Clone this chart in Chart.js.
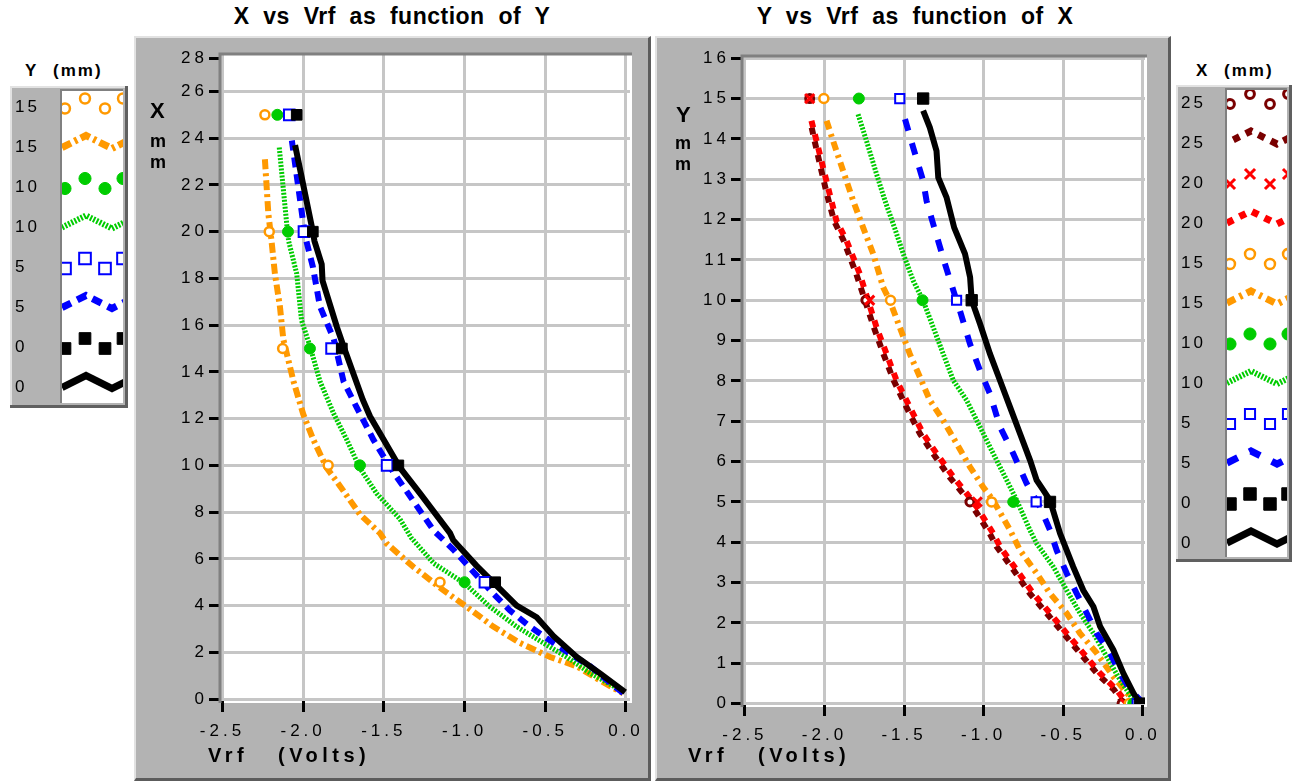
<!DOCTYPE html>
<html>
<head>
<meta charset="utf-8">
<title>Vrf</title>
<script src="https://cdn.jsdelivr.net/npm/chart.js@4.4.1/dist/chart.umd.min.js"></script>
<style>
  body { margin:0; width:1294px; height:783px; background:#fff; position:relative; overflow:hidden; font-family:"Liberation Sans", Arial, sans-serif; color:#000; }
  .abs { position:absolute; white-space:pre; line-height:1; }
  .panel { position:absolute; top:36px; height:745px; box-sizing:border-box; background:#b3b3b3; border-top:2px solid #e2e2e2; border-left:2px solid #e2e2e2; border-right:3px solid #5c5c5c; border-bottom:3px solid #5c5c5c; }
  canvas { position:absolute; }
  .ttl { font-weight:bold; font-size:23px; letter-spacing:0.5px; text-align:center; width:500px; top:5px; }
  .axt { font-weight:bold; font-size:20px; letter-spacing:4.5px; top:745px; }
  .big { font-weight:bold; font-size:22px; }
  .mm { font-weight:bold; font-size:18px; }
  .lh { font-weight:bold; font-size:17px; letter-spacing:2px; top:62px; }
</style>
</head>
<body>
<div class="abs ttl" style="left:142px">X  vs  Vrf  as  function  of  Y</div>
<div class="abs ttl" style="left:665px">Y  vs  Vrf  as  function  of  X</div>

<div class="panel" style="left:134px;width:517px"></div>
<div class="panel" style="left:655px;width:516px"></div>
<canvas id="leftChart" width="517" height="745" style="left:134px;top:36px"></canvas>
<canvas id="rightChart" width="516" height="745" style="left:655px;top:36px"></canvas>

<!-- 軸タイトル -->
<div class="abs big" style="left:150px;top:100px">X</div>
<div class="abs mm" style="left:150px;top:132px">m</div>
<div class="abs mm" style="left:150px;top:153px">m</div>
<div class="abs big" style="left:676px;top:104px">Y</div>
<div class="abs mm" style="left:675px;top:134px">m</div>
<div class="abs mm" style="left:675px;top:155px">m</div>
<div class="abs axt" style="left:208px">Vrf</div>
<div class="abs axt" style="left:278px">(Volts)</div>
<div class="abs axt" style="left:688px">Vrf</div>
<div class="abs axt" style="left:758px">(Volts)</div>

<!-- 凡例 -->
<div class="abs lh" style="left:25px">Y</div>
<div class="abs lh" style="left:53px">(mm)</div>
<div class="abs lh" style="left:1196px">X</div>
<div class="abs lh" style="left:1224px">(mm)</div>
<canvas id="leftLegend" width="118" height="322" style="left:10px;top:86px"></canvas>
<canvas id="rightLegend" width="116" height="477" style="left:1176px;top:85px"></canvas>

<script>
// ===== データ =====
// 目盛り
const xTickValues = [-2.5, -2.0, -1.5, -1.0, -0.5, 0.0];
const xTickLabels = ['-2.5', '-2.0', '-1.5', '-1.0', '-0.5', '0.0'];
const leftYTickLabels = [0, 2, 4, 6, 8, 10, 12, 14, 16, 18, 20, 22, 24, 26, 28];
const rightYTickLabels = [0, 1, 2, 3, 4, 5, 6, 7, 8, 9, 10, 11, 12, 13, 14, 15, 16];

// 左グラフ: X(mm) と Vrf(V)  Y = 0, 5, 10, 15 mm
const leftY0_X = [23.7, 20.0, 19.6, 18.6, 17.9, 15.9, 15.1, 12.8, 12.1, 11.2, 9.9, 8.8, 7.1, 6.8, 5.7, 4.7, 4.0, 3.5, 2.7, 1.8, 1.1, 0.3];
const leftY0_V = [-2.05, -1.94, -1.93, -1.885, -1.88, -1.79, -1.75, -1.63, -1.586, -1.51, -1.40, -1.276, -1.09, -1.07, -0.925, -0.78, -0.677, -0.553, -0.45, -0.305, -0.161, -0.005];
const leftY5_X = [23.9, 20.4, 19.6, 18.5, 16.8, 15.4, 13.6, 12.5, 11.1, 9.9, 8.5, 7.2, 6.4, 5.45, 4.5, 3.8, 3.1, 2.5, 1.95, 1.4, 0.7, 0.25];
const leftY5_V = [-2.07, -2.0, -1.98, -1.94, -1.896, -1.81, -1.75, -1.67, -1.565, -1.46, -1.32, -1.19, -1.07, -0.946, -0.82, -0.72, -0.595, -0.47, -0.35, -0.22, -0.1, -0.017];
const leftY10_X = [23.6, 20.2, 19.6, 18.2, 16.2, 15.1, 13.6, 12.2, 11.1, 9.9, 8.8, 7.7, 6.9, 5.8, 4.95, 3.95, 3.1, 2.4, 1.8, 1.1, 0.4];
const leftY10_V = [-2.148, -2.10, -2.09, -2.04, -2.01, -1.958, -1.896, -1.81, -1.73, -1.65, -1.545, -1.40, -1.33, -1.19, -1.0, -0.843, -0.677, -0.512, -0.367, -0.22, -0.037];
const leftY15_X = [23.1, 20.8, 19.6, 18.2, 16.8, 15.4, 13.6, 12.2, 11.1, 9.9, 9.1, 7.9, 7.1, 6.66, 5.66, 4.66, 3.95, 3.1, 2.4, 1.8, 1.4, 0.8, 0.24];
const leftY15_V = [-2.237, -2.216, -2.196, -2.175, -2.144, -2.123, -2.06, -2.0, -1.937, -1.855, -1.77, -1.648, -1.524, -1.483, -1.318, -1.132, -0.987, -0.822, -0.657, -0.47, -0.305, -0.161, -0.017];
// マーカー位置
const leftMarkX = [5, 10, 15, 20, 25];
const leftY0_markV = [-0.81, -1.41, -1.76, -1.94, -2.04];
const leftY5_markV = [-0.874, -1.48, -1.824, -1.995, -2.086];
const leftY10_markV = [-1.0, -1.648, -1.958, -2.094, -2.16];
const leftY15_markV = [-1.152, -1.845, -2.127, -2.21, -2.237];

// 右グラフ: Y(mm) と Vrf(V)  X = 0, 5, 10, 15, 20, 25 mm
const rightX0_Y = [14.7, 14.28, 13.7, 13.04, 12.55, 11.8, 11.15, 10.57, 10.0, 9.42, 8.67, 8.01, 7.35, 6.69, 6.03, 5.54, 5.29, 5.04, 4.22, 3.39, 2.81, 2.4, 1.91, 1.33, 0.75, 0.26, 0.0];
const rightX0_V = [-1.38, -1.338, -1.296, -1.285, -1.233, -1.185, -1.117, -1.085, -1.075, -1.023, -0.96, -0.897, -0.834, -0.771, -0.708, -0.667, -0.625, -0.583, -0.52, -0.437, -0.374, -0.31, -0.268, -0.185, -0.122, -0.059, -0.017];
const rightX5_Y = [14.49, 13.79, 12.96, 12.47, 11.89, 10.9, 10.24, 9.74, 8.92, 8.26, 7.68, 6.86, 6.2, 5.46, 4.88, 4.3, 3.8, 3.23, 2.73, 2.24, 1.74, 1.25, 0.75, 0.34, 0.09];
const rightX5_V = [-1.494, -1.443, -1.38, -1.359, -1.317, -1.243, -1.19, -1.149, -1.086, -1.023, -0.96, -0.897, -0.814, -0.73, -0.646, -0.583, -0.541, -0.478, -0.415, -0.352, -0.289, -0.205, -0.143, -0.08, -0.017];
const rightX10_Y = [14.61, 13.95, 13.13, 12.47, 11.8, 11.15, 10.49, 9.99, 9.33, 8.67, 8.01, 7.52, 6.86, 6.2, 5.54, 5.04, 4.3, 3.97, 3.39, 2.81, 2.24, 1.74, 1.16, 0.59, 0.09];
const rightX10_V = [-1.789, -1.736, -1.673, -1.62, -1.56, -1.505, -1.443, -1.38, -1.317, -1.254, -1.19, -1.107, -1.023, -0.94, -0.855, -0.792, -0.709, -0.667, -0.562, -0.478, -0.394, -0.31, -0.226, -0.143, -0.059];
const rightX15_Y = [14.45, 13.95, 13.21, 12.47, 11.8, 11.15, 10.32, 9.99, 9.33, 8.67, 8.09, 7.52, 7.02, 6.45, 5.87, 5.37, 5.04, 4.3, 3.8, 3.23, 2.73, 2.24, 1.74, 1.25, 0.67, 0.17];
const rightX15_V = [-1.987, -1.946, -1.883, -1.82, -1.757, -1.694, -1.631, -1.59, -1.527, -1.464, -1.40, -1.338, -1.254, -1.17, -1.086, -1.003, -0.94, -0.834, -0.771, -0.667, -0.583, -0.478, -0.394, -0.289, -0.185, -0.08];
const rightX20_Y = [14.45, 13.95, 13.29, 12.63, 11.97, 11.48, 10.65, 9.99, 9.33, 8.67, 8.01, 7.35, 6.69, 6.2, 5.62, 5.21, 4.88, 4.22, 3.89, 3.31, 2.73, 2.24, 1.74, 1.25, 0.75, 0.34, 0.0];
const rightX20_V = [-2.082, -2.05, -2.009, -1.967, -1.925, -1.862, -1.778, -1.726, -1.673, -1.61, -1.547, -1.464, -1.38, -1.296, -1.19, -1.107, -1.044, -0.94, -0.897, -0.792, -0.688, -0.583, -0.478, -0.374, -0.268, -0.164, -0.10];
const rightX25_Y = [14.45, 13.95, 13.29, 12.63, 11.97, 11.48, 10.65, 9.99, 9.33, 8.67, 8.01, 7.35, 6.69, 6.2, 5.62, 5.21, 4.88, 4.22, 3.89, 3.31, 2.73, 2.24, 1.74, 1.25, 0.75, 0.34, 0.0];
const rightX25_V = [-2.09, -2.062, -2.024, -1.985, -1.94, -1.88, -1.80, -1.745, -1.69, -1.63, -1.565, -1.485, -1.40, -1.318, -1.215, -1.13, -1.068, -0.962, -0.918, -0.812, -0.71, -0.604, -0.498, -0.394, -0.288, -0.18, -0.12];
// マーカー位置
const rightMarkY = [0, 5, 10, 15];
const rightX0_markV = [-0.017, -0.583, -1.075, -1.38];
const rightX5_markV = [-0.035, -0.67, -1.17, -1.527];
const rightX10_markV = [-0.06, -0.814, -1.384, -1.784];
const rightX15_markV = [-0.085, -0.95, -1.585, -2.004];
const rightX20_markV = [-0.11, -1.04, -1.716, -2.093];
const rightX25_markV = [-0.13, -1.086, -1.74, -2.093];

// ===== 色と線種 =====
const BLACK = '#000000', BLUE = '#0000ff', GREEN = '#00cc00', ORANGE = '#ff9900', RED = '#ff0000', MAROON = '#7a0000';
const GRAY = '#b3b3b3';

function pts(vs, ys) {
  return vs.map((v, i) => ({ x: v, y: ys[i] }));
}
function lineSet(vs, ys, s) {
  return { data: pts(vs, ys), showLine: true, borderColor: s.color, borderWidth: s.width,
           borderDash: s.dash, borderDashOffset: s.offset || 0, pointRadius: 0, tension: 0, fill: false };
}
function markSet(vs, ys, m) {
  return { data: pts(vs, ys), showLine: false, pointStyle: m.style, pointRadius: m.r,
           pointBackgroundColor: m.fill, pointBorderColor: m.color, pointBorderWidth: m.bw };
}

// 左グラフ用スタイル
const L = {
  y0line: { color: BLACK, width: 6, dash: [] },
  y5line: { color: BLUE, width: 6, dash: [10, 7] },
  y10line: { color: GREEN, width: 5, dash: [2, 1.5] },
  y15line: { color: ORANGE, width: 6, dash: [10, 4, 3, 4] },
  y0mark: { style: 'rect', r: 7.5, color: BLACK, fill: BLACK, bw: 1 },
  y5mark: { style: 'rect', r: 7.5, color: BLUE, fill: '#ffffff', bw: 2 },
  y10mark: { style: 'circle', r: 5.5, color: GREEN, fill: GREEN, bw: 1 },
  y15mark: { style: 'circle', r: 4.5, color: ORANGE, fill: '#ffffff', bw: 2.5 }
};
// 右グラフ用スタイル
const R = {
  x0line: { color: BLACK, width: 6, dash: [] },
  x5line: { color: BLUE, width: 6, dash: [12, 13] },
  x10line: { color: GREEN, width: 5, dash: [2, 1.5] },
  x15line: { color: ORANGE, width: 6, dash: [9, 5, 3, 5] },
  x20line: { color: RED, width: 6, dash: [7, 7], offset: 0 },
  x25line: { color: MAROON, width: 6, dash: [7, 7], offset: 7 },
  x0mark: { style: 'rect', r: 8, color: BLACK, fill: BLACK, bw: 1 },
  x5mark: { style: 'rect', r: 6.5, color: BLUE, fill: '#ffffff', bw: 2 },
  x10mark: { style: 'circle', r: 5.5, color: GREEN, fill: GREEN, bw: 1 },
  x15mark: { style: 'circle', r: 4.5, color: ORANGE, fill: '#ffffff', bw: 2.5 },
  x20mark: { style: 'crossRot', r: 6.5, color: RED, fill: RED, bw: 3 },
  x25mark: { style: 'circle', r: 4, color: MAROON, fill: '#ffffff', bw: 3 }
};

// プロット領域の白背景と枠
const plotFrame = {
  id: 'plotFrame',
  beforeDraw(chart) {
    const c = chart.ctx, a = chart.chartArea;
    c.save();
    c.fillStyle = '#ffffff';
    c.fillRect(a.left, a.top, a.right - a.left + 2, a.bottom - a.top + 3);
    c.restore();
    c.letterSpacing = '4px';
  },
  beforeDatasetsDraw(chart) {
    const c = chart.ctx, a = chart.chartArea;
    c.save();
    c.strokeStyle = '#808080';
    c.lineWidth = 3;
    c.beginPath();
    c.moveTo(a.left - 1, a.bottom + 3);
    c.lineTo(a.left - 1, a.top - 1);
    c.lineTo(a.right + 2, a.top - 1);
    c.stroke();
    c.restore();
  }
};

const tickFont = { family: 'Liberation Sans', size: 17 };

function makeChart(id, datasets, o) {
  return new Chart(document.getElementById(id), {
    type: 'scatter',
    data: { datasets: datasets },
    options: {
      responsive: false,
      animation: false,
      layout: { padding: { top: o.padTop, right: o.padRight, left: 0, bottom: 0 } },
      plugins: { legend: { display: false }, tooltip: { enabled: false } },
      scales: {
        x: {
          type: 'linear', min: o.xMin, max: o.xMax,
          afterBuildTicks: s => { s.ticks = xTickValues.map(v => ({ value: v })); },
          afterFit: s => { s.height = o.xHeight; },
          border: { display: false },
          grid: { color: '#c6c6c6', lineWidth: 3, tickColor: '#000', tickWidth: 3, tickLength: 12 },
          ticks: { callback: (v, i) => xTickLabels[i], font: tickFont, color: '#000', padding: 9, maxRotation: 0, autoSkip: false }
        },
        y: {
          type: 'linear', min: o.yMin, max: o.yMax,
          afterBuildTicks: s => { s.ticks = o.yTickPos.map(v => ({ value: v })); },
          afterFit: s => { s.width = o.yWidth; },
          border: { display: false },
          grid: {
            color: c => (c.index === o.yNoGrid ? 'rgba(0,0,0,0)' : '#c6c6c6'),
            lineWidth: 3, tickColor: '#000', tickWidth: 3, tickLength: 12
          },
          ticks: { callback: (v, i) => String(o.yTickText[i]), font: tickFont, color: '#000', padding: 1, autoSkip: false }
        }
      }
    },
    plugins: [plotFrame]
  });
}

// ===== 左グラフ =====
const leftYTickPos = leftYTickLabels.map(v => (v === 28 ? 27.4 : v));
makeChart('leftChart', [
  markSet(leftY0_markV, leftMarkX, L.y0mark),
  markSet(leftY5_markV, leftMarkX, L.y5mark),
  markSet(leftY10_markV, leftMarkX, L.y10mark),
  markSet(leftY15_markV, leftMarkX, L.y15mark),
  lineSet(leftY0_V, leftY0_X, L.y0line),
  lineSet(leftY5_V, leftY5_X, L.y5line),
  lineSet(leftY10_V, leftY10_X, L.y10line),
  lineSet(leftY15_V, leftY15_X, L.y15line)
], {
  padTop: 19, padRight: 21, xHeight: 81, yWidth: 87,
  xMin: -2.509, xMax: 0.025, yMin: -0.04, yMax: 27.56,
  yTickPos: leftYTickPos, yTickText: leftYTickLabels, yNoGrid: leftYTickLabels.length - 1
});

// ===== 右グラフ =====
makeChart('rightChart', [
  markSet(rightX0_markV, rightMarkY, R.x0mark),
  markSet(rightX5_markV, rightMarkY, R.x5mark),
  markSet(rightX10_markV, rightMarkY, R.x10mark),
  markSet(rightX15_markV, rightMarkY, R.x15mark),
  markSet(rightX20_markV, rightMarkY, R.x20mark),
  markSet(rightX25_markV, rightMarkY, R.x25mark),
  lineSet(rightX0_V, rightX0_Y, R.x0line),
  lineSet(rightX5_V, rightX5_Y, R.x5line),
  lineSet(rightX10_V, rightX10_Y, R.x10line),
  lineSet(rightX15_V, rightX15_Y, R.x15line),
  lineSet(rightX20_V, rightX20_Y, R.x20line),
  lineSet(rightX25_V, rightX25_Y, R.x25line)
], {
  padTop: 21, padRight: 26, xHeight: 77, yWidth: 88,
  xMin: -2.512, xMax: 0.014, yMin: -0.01, yMax: 16.03,
  yTickPos: rightYTickLabels, yTickText: rightYTickLabels, yNoGrid: -1
});

// ===== 凡例（canvasに直接描く） =====
function drawMark(c, m, x, y, k) {
  const r = m.r * k;
  c.save();
  c.lineWidth = m.bw;
  c.strokeStyle = m.color;
  c.fillStyle = m.fill;
  c.beginPath();
  if (m.style === 'rect') {
    const s = r * Math.SQRT1_2;
    c.rect(x - s, y - s, 2 * s, 2 * s);
    c.fill(); c.stroke();
  } else if (m.style === 'circle') {
    c.arc(x, y, r, 0, Math.PI * 2);
    c.fill(); c.stroke();
  } else {
    const s = r * Math.SQRT1_2;
    c.moveTo(x - s, y - s); c.lineTo(x + s, y + s);
    c.moveTo(x + s, y - s); c.lineTo(x - s, y + s);
    c.stroke();
  }
  c.restore();
}

function drawLegend(id, rows, grayW, firstY) {
  const cv = document.getElementById(id);
  const c = cv.getContext('2d');
  const W = cv.width, H = cv.height;
  c.fillStyle = GRAY;
  c.fillRect(0, 0, W, H);
  // 外枠（立体風）
  c.fillStyle = '#e2e2e2';
  c.fillRect(0, 0, W, 2); c.fillRect(0, 0, 2, H);
  c.fillStyle = '#606060';
  c.fillRect(0, H - 3, W, 3); c.fillRect(W - 3, 0, 3, H);
  // 白い見本欄
  const wx = grayW, wy = 3, ww = W - grayW - 5, wh = H - 8;
  c.fillStyle = '#ffffff';
  c.fillRect(wx, wy, ww, wh);
  c.fillStyle = '#808080';
  c.fillRect(wx - 2, wy, 2, wh); c.fillRect(wx - 2, wy, ww + 2, 2);

  rows.forEach((r, i) => {
    const cy = firstY + 40 * i;
    c.save();
    c.letterSpacing = '3px';
    c.fillStyle = '#000';
    c.font = '17px "Liberation Sans"';
    c.textBaseline = 'middle';
    c.fillText(r.label, 5, cy + 1);
    c.restore();

    c.save();
    c.beginPath();
    c.rect(wx, wy + 2, ww, wh - 2);
    c.clip();
    if (r.line) {
      c.strokeStyle = r.line.color;
      c.lineWidth = r.line.width + 1;
      c.setLineDash(r.line.dash);
      c.lineDashOffset = r.line.offset || 0;
      c.lineJoin = 'miter';
      c.beginPath();
      c.moveTo(wx, cy + 1);
      c.lineTo(wx + 24, cy - 11);
      c.lineTo(wx + 50, cy + 2);
      c.lineTo(wx + 66, cy - 6);
      c.stroke();
    } else {
      [[3, 2], [23, -8], [43, 2], [61, -8]].forEach(p => drawMark(c, r.mark, wx + p[0], cy + p[1], 1.1));
    }
    c.restore();
  });
}

drawLegend('leftLegend', [
  { label: '15', mark: L.y15mark }, { label: '15', line: L.y15line },
  { label: '10', mark: L.y10mark }, { label: '10', line: L.y10line },
  { label: '5', mark: L.y5mark }, { label: '5', line: L.y5line },
  { label: '0', mark: L.y0mark }, { label: '0', line: L.y0line }
], 52, 20.5);

drawLegend('rightLegend', [
  { label: '25', mark: R.x25mark }, { label: '25', line: R.x25line },
  { label: '20', mark: R.x20mark }, { label: '20', line: R.x20line },
  { label: '15', mark: R.x15mark }, { label: '15', line: R.x15line },
  { label: '10', mark: R.x10mark }, { label: '10', line: R.x10line },
  { label: '5', mark: R.x5mark }, { label: '5', line: R.x5line },
  { label: '0', mark: R.x0mark }, { label: '0', line: R.x0line }
], 51, 17);
</script>
</body>
</html>
